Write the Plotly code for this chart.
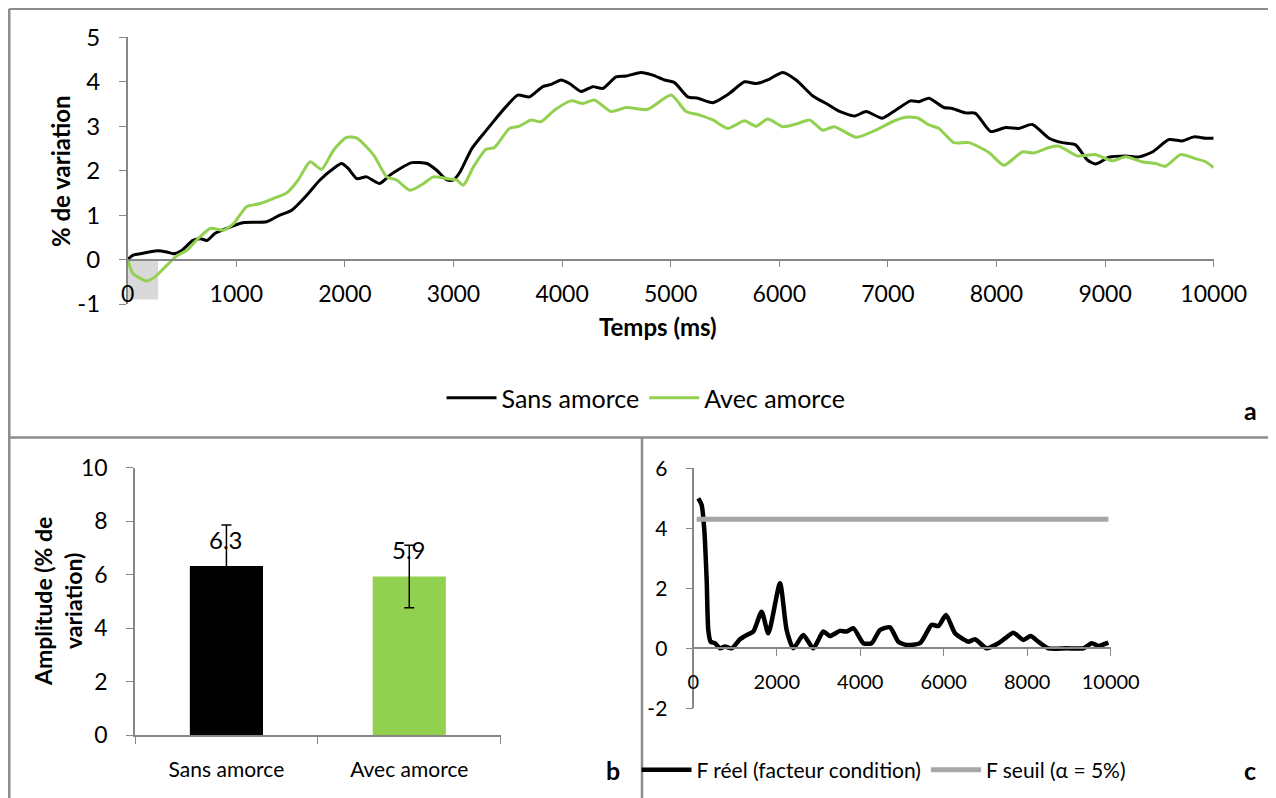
import plotly.graph_objects as go

# --- données ---

# a : décours temporel (% de variation)
t_sans = [0, 50, 140, 270, 360, 420, 500, 600, 670, 730, 800, 910, 1060, 1280, 1400, 1510,
          1650, 1770, 1895, 1970, 2030, 2110, 2200, 2320, 2415, 2510, 2615, 2755, 2845, 2940,
          3000, 3060, 3170, 3300, 3400, 3484, 3592, 3699, 3822, 3899, 3991, 4068, 4175, 4282,
          4375, 4497, 4590, 4728, 4835, 4942, 5035, 5157, 5250, 5388, 5541, 5680, 5787, 5894,
          6032, 6155, 6309, 6432, 6539, 6693, 6800, 6948, 7071, 7209, 7285, 7378, 7516, 7592,
          7715, 7807, 7946, 8084, 8207, 8330, 8483, 8606, 8728, 8836, 8913, 9035, 9189, 9312,
          9435, 9588, 9711, 9818, 9926, 10000]
v_sans = [0, 0.1, 0.14, 0.2, 0.17, 0.13, 0.21, 0.43, 0.47, 0.43, 0.58, 0.7, 0.83, 0.85, 1.0, 1.11,
          1.45, 1.79, 2.05, 2.16, 2.05, 1.82, 1.86, 1.71, 1.9, 2.05, 2.18, 2.16, 2.01, 1.79,
          1.79, 1.97, 2.5, 2.9, 3.2, 3.44, 3.7, 3.66, 3.89, 3.94, 4.04, 3.96, 3.78, 3.89,
          3.85, 4.11, 4.13, 4.21, 4.15, 4.04, 3.98, 3.66, 3.63, 3.53, 3.74, 4.0, 3.96, 4.04,
          4.21, 4.04, 3.68, 3.51, 3.35, 3.23, 3.33, 3.18, 3.36, 3.57, 3.55, 3.63, 3.42, 3.4,
          3.3, 3.29, 2.88, 2.97, 2.95, 3.04, 2.73, 2.63, 2.58, 2.24, 2.15, 2.3, 2.33, 2.31,
          2.42, 2.7, 2.67, 2.76, 2.73, 2.73]

t_avec = [0, 50, 175, 250, 360, 450, 545, 635, 760, 880, 975, 1095, 1220, 1340, 1465, 1570,
          1680, 1785, 1895, 2015, 2110, 2265, 2385, 2475, 2600, 2725, 2815, 2940, 3030, 3090,
          3185, 3300, 3377, 3515, 3607, 3714, 3806, 3929, 4083, 4190, 4297, 4451, 4590, 4789,
          5004, 5142, 5265, 5388, 5526, 5679, 5787, 5894, 6032, 6155, 6278, 6401, 6508, 6708,
          6886, 7040, 7163, 7270, 7378, 7470, 7608, 7746, 7930, 8068, 8237, 8344, 8483, 8575,
          8744, 8913, 9066, 9189, 9342, 9465, 9557, 9695, 9834, 9926, 10000]
v_avec = [0, -0.32, -0.48, -0.39, -0.13, 0.08, 0.21, 0.44, 0.7, 0.66, 0.81, 1.19, 1.26, 1.37, 1.5, 1.79,
          2.2, 2.03, 2.46, 2.75, 2.73, 2.35, 1.86, 1.79, 1.56, 1.71, 1.86, 1.82, 1.79, 1.67,
          2.09, 2.48, 2.52, 2.95, 3.0, 3.14, 3.1, 3.36, 3.57, 3.51, 3.59, 3.33, 3.42, 3.38,
          3.7, 3.33, 3.25, 3.14, 2.95, 3.12, 3.0, 3.16, 2.99, 3.05, 3.14, 2.91, 2.99, 2.75,
          2.91, 3.1, 3.2, 3.19, 3.03, 2.95, 2.63, 2.63, 2.41, 2.12, 2.42, 2.4, 2.52, 2.55,
          2.33, 2.36, 2.22, 2.31, 2.2, 2.16, 2.1, 2.36, 2.27, 2.2, 2.07]

# fenêtre grisée (début de l'essai)
zone_t = [0, 280]
zone_v = [-0.9, 0]

# graduations de l'axe y (a)
ya_ticks = [-1, 0, 1, 2, 3, 4, 5]
ya_labels = ["-1", "0", "1", "2", "3", "4", "5"]

# b : amplitude moyenne
conditions = ["Sans amorce", "Avec amorce"]
amplitude = [6.32, 5.93]
erreur = [1.54, 1.17]

# c : F de l'ANOVA dans le temps
t_f = [120, 200, 264, 320, 359, 415, 519, 639, 759, 919, 1118, 1278, 1438, 1637, 1797, 2077,
       2236, 2396, 2636, 2875, 3115, 3275, 3514, 3674, 3834, 4073, 4273, 4473, 4712, 4912,
       5112, 5431, 5711, 5871, 6054, 6270, 6470, 6590, 6749, 7029, 7308, 7468, 7668, 7907,
       8083, 8267, 8506, 8946, 9345, 9545, 9704, 9944]
f_reel = [5.0, 4.78, 3.94, 2.28, 0.61, 0.22, 0.17, 0.0, 0.06, 0.0, 0.3, 0.44, 0.56, 1.22, 0.5, 2.17,
          0.61, 0.0, 0.44, 0.0, 0.56, 0.41, 0.58, 0.56, 0.67, 0.17, 0.17, 0.61, 0.7, 0.22,
          0.11, 0.17, 0.78, 0.74, 1.11, 0.5, 0.3, 0.22, 0.3, 0.0, 0.17, 0.33, 0.52, 0.28,
          0.41, 0.22, 0.0, 0.0, 0.0, 0.17, 0.08, 0.19]
t_seuil = [80, 9944]
f_seuil = [4.3, 4.3]

# graduations de l'axe y (c)
yc_ticks = [-2, 0, 2, 4, 6]
yc_labels = ["-2", "0", "2", "4", "6"]

# --- mise en forme ---
# la page ajoute une marge de 8 px : on place tout en coordonnées fenêtre
OFF = 8
W, H = 1276 - OFF, 798 - OFF
FONT = "Lato"
GRIS_AXE = "#868686"
VERT = "#92D050"


def px_x(p):
    return (p - OFF) / W


def px_y(p):
    return 1 - (p - OFF) / H


def texte(x, y, txt, taille, angle=0):
    fig.add_annotation(x=px_x(x), y=px_y(y), xref="paper", yref="paper", text=txt,
                       showarrow=False, xanchor="center", yanchor="middle", textangle=angle,
                       font=dict(family=FONT, size=taille, color="black"))


fig = go.Figure()

# a
fig.add_trace(go.Scatter(x=zone_t + zone_t[::-1], y=[zone_v[0], zone_v[0], zone_v[1], zone_v[1]],
                         fill="toself", fillcolor="#D9D9D9", line=dict(width=0),
                         mode="lines", showlegend=False, hoverinfo="skip",
                         xaxis="x", yaxis="y"))
fig.add_trace(go.Scatter(x=t_sans, y=v_sans, name="Sans amorce", mode="lines",
                         line=dict(color="black", width=3, shape="spline", smoothing=0.6),
                         xaxis="x", yaxis="y", legend="legend"))
fig.add_trace(go.Scatter(x=t_avec, y=v_avec, name="Avec amorce", mode="lines",
                         line=dict(color=VERT, width=3, shape="spline", smoothing=0.6),
                         xaxis="x", yaxis="y", legend="legend"))

# b
fig.add_trace(go.Bar(x=conditions, y=amplitude, width=0.4,
                     marker=dict(color=["black", VERT], line=dict(width=0)),
                     error_y=dict(type="data", array=erreur, color="black", thickness=1.5, width=5),
                     showlegend=False, xaxis="x2", yaxis="y2"))

# c
fig.add_trace(go.Scatter(x=t_f, y=f_reel, name="F réel (facteur condition)", mode="lines",
                         line=dict(color="black", width=4.5, shape="spline", smoothing=0.6),
                         xaxis="x3", yaxis="y3", legend="legend2"))
fig.add_trace(go.Scatter(x=t_seuil, y=f_seuil, name="F seuil (α = 5%)", mode="lines",
                         line=dict(color="#A6A6A6", width=5),
                         xaxis="x3", yaxis="y3", legend="legend2"))


def axe(taille):
    return dict(showline=True, linecolor=GRIS_AXE, linewidth=1.5, ticks="outside", tickcolor=GRIS_AXE,
                ticklen=7, showgrid=False, zeroline=False, automargin=False, tickformat="d",
                tickfont=dict(family=FONT, size=taille, color="black"))


# a : axes (l'axe des x coupe à 0)
ya_dom = [px_y(304), px_y(37.3)]
ya_rng = [-1, 5]
fig.update_layout(
    xaxis=dict(axe(23), domain=[px_x(127.7), px_x(1213.7)], range=[0, 10000], dtick=1000,
               anchor="free", position=ya_dom[0] + (0 - ya_rng[0]) / (ya_rng[1] - ya_rng[0]) * (ya_dom[1] - ya_dom[0]),
               ticklabelstandoff=7),
    yaxis=dict(axe(24), domain=ya_dom, range=ya_rng, tickvals=ya_ticks, ticktext=ya_labels,
               anchor="x", ticklabelstandoff=14),
)

# b
fig.update_layout(
    xaxis2=dict(axe(21), domain=[px_x(135), px_x(500.7)], range=[-0.5, 1.5], anchor="y2",
                tickson="boundaries", ticklabelstandoff=15),
    yaxis2=dict(axe(23), domain=[px_y(735), px_y(467.7)], range=[0, 10], dtick=2, anchor="x2",
                ticklabelstandoff=14),
)

# c
yc_dom = [px_y(708.3), px_y(468.3)]
yc_rng = [-2, 6]
fig.update_layout(
    xaxis3=dict(axe(20), domain=[px_x(693.3), px_x(1110.7)], range=[0, 10000], dtick=2000,
                anchor="free", position=yc_dom[0] + (0 - yc_rng[0]) / (yc_rng[1] - yc_rng[0]) * (yc_dom[1] - yc_dom[0]),
                ticklabelstandoff=9),
    yaxis3=dict(axe(21), domain=yc_dom, range=yc_rng, tickvals=yc_ticks, ticktext=yc_labels,
                anchor="free", position=px_x(693.3), ticklabelstandoff=14),
)

# étiquettes des barres
for c, v in zip(conditions, amplitude):
    fig.add_annotation(x=c, y=v, xref="x2", yref="y2", text=f"{v:.1f}", showarrow=False,
                       yanchor="bottom", yshift=10, font=dict(family=FONT, size=24, color="black"))

# titres d'axes et lettres des panneaux
texte(60, 171, "<b>% de variation</b>", 24, angle=-90)
texte(658, 327, "<b>Temps (ms)</b>", 24)
texte(58, 602, "<b>Amplitude (% de<br>variation)</b>", 23, angle=-90)
texte(1250, 410, "<b>a</b>", 25)
texte(613, 770, "<b>b</b>", 25)
texte(1250, 770, "<b>c</b>", 25)

# cadres des panneaux
bord = dict(type="line", xref="paper", yref="paper", line=dict(color="#8C8C8C", width=2.5))
fig.add_shape(bord, x0=0.001, x1=1, y0=0.999, y1=0.999)
fig.add_shape(bord, x0=0.001, x1=0.001, y0=0.999, y1=0)
fig.add_shape(bord, x0=0.001, x1=1, y0=px_y(437.5), y1=px_y(437.5))
fig.add_shape(bord, x0=px_x(642), x1=px_x(642), y0=px_y(437.5), y1=0)

fig.update_layout(
    width=W, height=H,
    margin=dict(l=0, r=0, t=0, b=0),
    paper_bgcolor="white", plot_bgcolor="white",
    font=dict(family=FONT, size=24, color="black"),
    legend=dict(orientation="h", x=px_x(646), y=px_y(398), xanchor="center", yanchor="middle",
                font=dict(family=FONT, size=25), bgcolor="rgba(0,0,0,0)", itemwidth=50),
    legend2=dict(orientation="h", x=px_x(884), y=px_y(770), xanchor="center", yanchor="middle",
                 font=dict(family=FONT, size=21), bgcolor="rgba(0,0,0,0)", itemwidth=50),
)

fig.write_html("out.html")
